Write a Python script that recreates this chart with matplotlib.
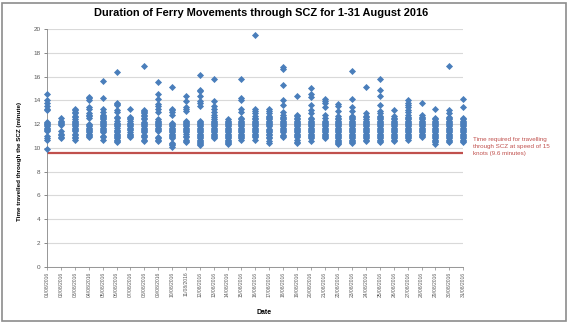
import matplotlib
matplotlib.use("Agg")
import matplotlib.pyplot as plt
from matplotlib.patches import Rectangle

# travel time through SCZ (minutes) for each ferry movement, per day
aug01 = [14.5, 14.0, 13.8, 13.5, 13.3, 13.2, 12.2, 12.1, 12.0, 11.9, 11.8, 11.7, 11.6, 11.5, 11.4, 11.0, 10.8, 10.7, 9.9]
aug02 = [12.5, 12.3, 12.2, 12.1, 12.0, 11.9, 11.4, 11.2, 11.1, 10.9, 10.8]
aug03 = [13.3, 13.2, 13.0, 12.9, 12.7, 12.6, 12.4, 12.3, 12.2, 12.1, 12.0, 11.9, 11.8, 11.7, 11.6, 11.5, 11.4, 11.2, 11.1, 10.9, 10.8, 10.7]
aug04 = [14.3, 14.2, 14.0, 13.4, 13.3, 12.9, 12.8, 12.7, 12.5, 12.0, 11.9, 11.8, 11.7, 11.6, 11.5, 11.4, 11.3, 11.2, 11.1, 11.0, 10.9]
aug05 = [15.6, 14.2, 13.3, 13.0, 12.8, 12.7, 12.6, 12.5, 12.4, 12.3, 12.2, 12.1, 12.0, 11.9, 11.8, 11.7, 11.6, 11.5, 11.4, 11.3, 11.0, 10.9, 10.7]
aug06 = [16.4, 13.8, 13.7, 13.6, 13.2, 13.0, 12.6, 12.5, 12.3, 12.1, 12.0, 11.9, 11.8, 11.7, 11.5, 11.4, 11.3, 11.2, 11.1, 11.0, 10.9, 10.8, 10.7, 10.6, 10.5]
aug07 = [13.3, 12.6, 12.5, 12.4, 12.3, 12.1, 12.0, 11.9, 11.8, 11.7, 11.6, 11.5, 11.3, 11.2, 11.1, 11.0, 10.9]
aug08 = [16.9, 13.2, 13.1, 13.0, 12.9, 12.8, 12.7, 12.5, 12.4, 12.2, 12.1, 12.0, 11.9, 11.8, 11.7, 11.6, 11.5, 11.4, 11.3, 11.1, 11.0, 10.9, 10.7, 10.6]
aug09 = [15.5, 14.5, 14.1, 13.7, 13.5, 13.3, 13.0, 12.4, 12.3, 12.2, 12.1, 12.0, 11.9, 11.8, 11.7, 11.6, 11.5, 11.4, 10.9, 10.8, 10.7, 10.6]
aug10 = [15.1, 13.3, 13.2, 13.0, 12.8, 12.1, 12.0, 11.9, 11.8, 11.7, 11.6, 11.5, 11.4, 11.3, 11.2, 11.1, 11.0, 10.9, 10.8, 10.4, 10.3, 10.2, 10.1]
aug11 = [14.4, 13.9, 13.4, 13.3, 13.1, 12.3, 12.2, 12.1, 12.0, 11.9, 11.8, 11.7, 11.6, 11.5, 11.4, 11.3, 11.2, 11.0, 10.9, 10.7, 10.6, 10.5]
aug12 = [16.1, 14.9, 14.8, 14.4, 13.9, 13.8, 13.5, 12.3, 12.2, 12.1, 12.0, 11.9, 11.8, 11.7, 11.6, 11.5, 11.4, 11.3, 11.2, 11.1, 11.0, 10.9, 10.8, 10.7, 10.6, 10.5, 10.4, 10.3, 10.2]
aug13 = [15.8, 13.9, 13.5, 13.3, 13.0, 12.8, 12.6, 12.4, 12.3, 12.2, 12.1, 12.0, 11.9, 11.8, 11.7, 11.6, 11.5, 11.4, 11.3, 11.2, 11.1, 11.0, 10.9, 10.8]
aug14 = [12.4, 12.3, 12.2, 12.1, 12.0, 11.9, 11.8, 11.7, 11.6, 11.5, 11.4, 11.3, 11.2, 11.1, 11.0, 10.9, 10.8, 10.7, 10.6, 10.5, 10.4, 10.3]
aug15 = [15.8, 14.2, 14.0, 13.3, 13.0, 12.5, 12.4, 12.3, 12.2, 12.1, 12.0, 11.9, 11.8, 11.7, 11.6, 11.5, 11.4, 11.3, 11.2, 11.1, 11.0, 10.9, 10.8, 10.7]
aug16 = [19.5, 13.3, 13.1, 12.9, 12.7, 12.5, 12.4, 12.3, 12.2, 12.1, 12.0, 11.9, 11.8, 11.7, 11.6, 11.5, 11.4, 11.3, 11.2, 11.1, 11.0, 10.9, 10.7]
aug17 = [13.3, 13.1, 12.9, 12.7, 12.6, 12.5, 12.4, 12.3, 12.2, 12.1, 12.0, 11.9, 11.8, 11.6, 11.5, 11.4, 11.3, 11.2, 11.1, 10.9, 10.8, 10.6, 10.4]
aug18 = [16.8, 16.6, 15.3, 14.0, 13.6, 13.0, 12.8, 12.6, 12.5, 12.4, 12.3, 12.2, 12.1, 12.0, 11.9, 11.8, 11.7, 11.6, 11.5, 11.4, 11.3, 11.1, 11.0, 10.9]
aug19 = [14.4, 12.8, 12.7, 12.5, 12.4, 12.3, 12.2, 12.1, 12.0, 11.9, 11.8, 11.7, 11.6, 11.5, 11.4, 11.3, 11.2, 11.1, 11.0, 10.9, 10.7, 10.5, 10.4]
aug20 = [15.0, 14.5, 14.3, 13.6, 13.2, 12.9, 12.5, 12.4, 12.3, 12.2, 12.1, 12.0, 11.9, 11.8, 11.7, 11.6, 11.5, 11.4, 11.3, 11.2, 11.1, 11.0, 10.9, 10.8, 10.6]
aug21 = [14.1, 13.9, 13.8, 13.4, 12.8, 12.5, 12.3, 12.2, 12.1, 12.0, 11.9, 11.8, 11.7, 11.6, 11.5, 11.4, 11.3, 11.2, 11.1, 11.0, 10.9, 10.8]
aug22 = [13.7, 13.5, 13.1, 12.7, 12.5, 12.4, 12.3, 12.2, 12.1, 12.0, 11.9, 11.8, 11.7, 11.6, 11.5, 11.4, 11.3, 11.2, 11.1, 11.0, 10.9, 10.8, 10.7, 10.6, 10.5, 10.4, 10.3]
aug23 = [16.5, 14.1, 13.4, 13.1, 12.7, 12.6, 12.5, 12.4, 12.3, 12.2, 12.1, 12.0, 11.9, 11.8, 11.7, 11.6, 11.5, 11.4, 11.3, 11.2, 11.1, 11.0, 10.9, 10.8, 10.7, 10.6, 10.5, 10.4]
aug24 = [15.1, 12.9, 12.7, 12.6, 12.4, 12.3, 12.2, 12.1, 12.0, 11.9, 11.8, 11.7, 11.6, 11.5, 11.4, 11.3, 11.2, 11.1, 11.0, 10.9, 10.8, 10.7, 10.6]
aug25 = [15.8, 14.9, 14.4, 13.6, 13.1, 12.9, 12.7, 12.6, 12.5, 12.4, 12.3, 12.2, 12.1, 12.0, 11.9, 11.8, 11.7, 11.6, 11.5, 11.4, 11.3, 11.2, 11.1, 11.0, 10.9, 10.8, 10.7, 10.6, 10.5]
aug26 = [13.2, 12.7, 12.5, 12.4, 12.3, 12.2, 12.1, 12.0, 11.9, 11.8, 11.7, 11.6, 11.5, 11.4, 11.3, 11.2, 11.1, 11.0, 10.9, 10.8, 10.7, 10.6]
aug27 = [14.0, 13.8, 13.6, 13.4, 13.2, 13.0, 12.8, 12.6, 12.5, 12.4, 12.3, 12.2, 12.1, 12.0, 11.9, 11.8, 11.7, 11.6, 11.5, 11.4, 11.3, 11.2, 11.1, 11.0, 10.9, 10.8, 10.7]
aug28 = [13.8, 12.8, 12.6, 12.5, 12.4, 12.3, 12.2, 12.1, 12.0, 11.9, 11.8, 11.7, 11.6, 11.5, 11.4, 11.3, 11.2, 11.1, 11.0, 10.9]
aug29 = [13.3, 12.5, 12.4, 12.3, 12.2, 12.1, 12.0, 11.9, 11.8, 11.7, 11.6, 11.5, 11.4, 11.3, 11.2, 11.1, 11.0, 10.9, 10.8, 10.7, 10.6, 10.5, 10.3]
aug30 = [16.9, 13.2, 12.9, 12.6, 12.5, 12.4, 12.3, 12.2, 12.1, 12.0, 11.9, 11.8, 11.7, 11.6, 11.5, 11.4, 11.3, 11.2, 11.1, 11.0, 10.9, 10.8, 10.7, 10.6, 10.5]
aug31 = [14.1, 13.4, 12.5, 12.4, 12.3, 12.2, 12.1, 12.0, 11.9, 11.8, 11.7, 11.6, 11.5, 11.4, 11.3, 11.2, 11.1, 11.0, 10.9, 10.8, 10.7, 10.6, 10.5]

durations = [aug01, aug02, aug03, aug04, aug05, aug06, aug07, aug08, aug09, aug10,
             aug11, aug12, aug13, aug14, aug15, aug16, aug17, aug18, aug19, aug20,
             aug21, aug22, aug23, aug24, aug25, aug26, aug27, aug28, aug29, aug30, aug31]
dates = ["%02d/08/2016" % d for d in range(1, 32)]
required_time = 9.6  # 15 knots

blue = "#4A7EBB"
red = "#C0504D"

fig = plt.figure(figsize=(5.68, 3.22), dpi=100)
ax = fig.add_axes([47.3 / 568, 55.3 / 322, 415.9 / 568, 237.7 / 322])

for i, vals in enumerate(durations):
    ax.scatter([i] * len(vals), vals, marker="D", s=13, color=blue,
               linewidths=0, zorder=3, clip_on=False)

ax.axhline(required_time, color=red, lw=1.6, zorder=2)

ax.set_xlim(0, len(dates) - 1)
ax.set_ylim(0, 20)
ax.set_yticks(range(0, 21, 2))
ax.set_xticks(range(len(dates)))
ax.set_xticklabels(dates, rotation=90, fontsize=3.6, color="#595959",
                   family="Liberation Sans")
ax.tick_params(axis="y", labelsize=4.6, colors="#595959", length=2, width=0.5, pad=3)
ax.tick_params(axis="x", length=2, width=0.5, pad=1.5, color="#868686")
for lab in ax.get_yticklabels():
    lab.set_family("Liberation Sans")

ax.grid(axis="y", color="#D9D9D9", lw=0.8)
ax.set_axisbelow(True)
for s in ["top", "right"]:
    ax.spines[s].set_visible(False)
for s in ["left", "bottom"]:
    ax.spines[s].set_color("#868686")
    ax.spines[s].set_linewidth(0.6)

fig.text(261 / 568, 1 - 13 / 322, "Duration of Ferry Movements through SCZ for 1-31 August 2016",
         ha="center", va="center", fontsize=7.9, fontweight="bold", family="Liberation Sans")
fig.text(20 / 568, 1 - 161 / 322, "Time travelled through the SCZ (minute)", rotation=90,
         ha="center", va="center", fontsize=4.5, fontweight="bold", family="Liberation Sans")
fig.text(264 / 568, 1 - 313 / 322, "Date", ha="center", va="center",
         fontsize=5, fontweight="bold", family="Liberation Sans")
fig.text(473 / 568, 1 - 137 / 322,
         "Time required for travelling\nthrough SCZ at speed of 15\nknots (9.6 minutes)",
         ha="left", va="top", fontsize=4.5, color=red, linespacing=1.45,
         family="Liberation Sans")

# grey frame round the chart
fig.patches.append(Rectangle((1.5 / 568, 1.5 / 322), 564 / 568, 318 / 322, fill=False,
                             edgecolor="#8C8C8C", lw=1.2, transform=fig.transFigure))

fig.savefig("out.png", dpi=100)
